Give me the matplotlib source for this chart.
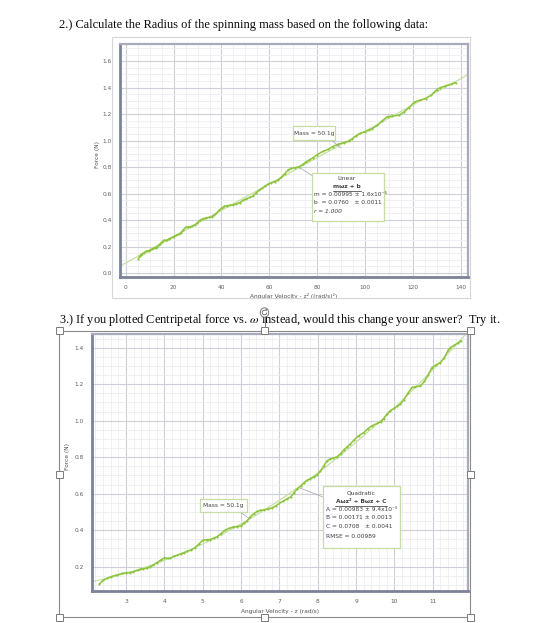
import numpy as np
import matplotlib
matplotlib.use("Agg")
import matplotlib.pyplot as plt
from matplotlib.ticker import MultipleLocator, FormatStrFormatter
from matplotlib.patches import Rectangle, Circle, Arc, Polygon
from matplotlib.lines import Line2D

plt.rcParams['mathtext.fontset'] = 'stix'

# ---------------- data ----------------
omega = [2.30, 2.40, 2.50, 2.60, 2.76, 2.90, 3.00, 3.10, 3.19, 3.30, 3.37, 3.45,
         3.54, 3.62, 3.71, 3.80, 3.90, 4.00, 4.08, 4.15, 4.25, 4.32, 4.42, 4.50,
         4.60, 4.70, 4.80, 4.90, 5.00, 5.10, 5.19, 5.28, 5.37, 5.47, 5.58, 5.68,
         5.80, 5.90, 6.00, 6.08, 6.15, 6.24, 6.33, 6.42, 6.50, 6.60, 6.70, 6.80,
         6.90, 7.00, 7.10, 7.20, 7.29, 7.38, 7.46, 7.55, 7.63, 7.72, 7.80, 7.89,
         7.98, 8.06, 8.15, 8.24, 8.32, 8.41, 8.50, 8.60, 8.68, 8.76, 8.85, 8.95,
         9.07, 9.20, 9.30, 9.42, 9.55, 9.65, 9.72, 9.80, 9.89, 10.00, 10.08, 10.15,
         10.25, 10.35, 10.46, 10.55, 10.68, 10.78, 10.88, 10.98, 11.08, 11.20,
         11.30, 11.40, 11.46, 11.55, 11.65, 11.74]
force = [0.105, 0.125, 0.137, 0.145, 0.155, 0.163, 0.167, 0.168, 0.173, 0.180, 0.186, 0.189,
         0.192, 0.200, 0.209, 0.222, 0.236, 0.249, 0.246, 0.246, 0.258, 0.262, 0.270, 0.276,
         0.284, 0.292, 0.305, 0.325, 0.345, 0.348, 0.349, 0.356, 0.364, 0.380, 0.400, 0.410,
         0.418, 0.420, 0.424, 0.438, 0.450, 0.473, 0.491, 0.503, 0.509, 0.512, 0.516, 0.522,
         0.532, 0.548, 0.560, 0.572, 0.582, 0.605, 0.625, 0.640, 0.658, 0.673, 0.682, 0.691,
         0.702, 0.722, 0.750, 0.780, 0.790, 0.796, 0.802, 0.820, 0.840, 0.855, 0.872, 0.895,
         0.918, 0.935, 0.955, 0.973, 0.985, 0.995, 1.010, 1.035, 1.055, 1.068, 1.080, 1.091,
         1.115, 1.150, 1.182, 1.186, 1.191, 1.215, 1.250, 1.291, 1.305, 1.318,
         1.345, 1.385, 1.400, 1.412, 1.425, 1.437]

# fit parameters shown in the boxes
lin_m, lin_b = 0.00995, 0.0760
quad_A, quad_B, quad_C = 0.00983, 0.00171, 0.0708

x1_ticks = [0, 20, 40, 60, 80, 100, 120, 140]
y1_ticks = [0.0, 0.2, 0.4, 0.6, 0.8, 1.0, 1.2, 1.4, 1.6]
x2_ticks = [3, 4, 5, 6, 7, 8, 9, 10, 11]
y2_ticks = [0.2, 0.4, 0.6, 0.8, 1.0, 1.2, 1.4]

W, H = 560, 623
fig = plt.figure(figsize=(W / 100, H / 100), dpi=100)
fig.patch.set_facecolor('white')


def fx(x):
    return x / W


def fy(y):
    return 1 - y / H


def ax_rect(l, t, r, b):
    return [fx(l), fy(b), (r - l) / W, (b - t) / H]


DATA_C = '#8cc43c'
FIT_C = '#c9e0a4'
BOX_EC = '#c6dca0'
TXT_C = '#505050'
TICK_FS = 4.2


def style_axes(ax):
    ax.set_facecolor('white')
    ax.grid(True, which='major', color='#cdd0d8', lw=0.8, zorder=0)
    ax.grid(True, which='minor', color='#eceef2', lw=0.6, zorder=0)
    ax.set_axisbelow(True)
    ax.tick_params(which='both', length=0, labelsize=TICK_FS, labelcolor='#606060', pad=6)
    for s in ['left', 'bottom']:
        ax.spines[s].set_color('#7c8298')
        ax.spines[s].set_linewidth(2.0)
    for s in ['top', 'right']:
        ax.spines[s].set_color('#a8acba')
        ax.spines[s].set_linewidth(1.6)


# ---------------- document text ----------------
fig.text(fx(59), fy(25), "2.) Calculate the Radius of the spinning mass based on the following data:",
         family='Liberation Serif', fontsize=8.9, color='#0a0a0a', va='center', ha='left')
fig.text(fx(59), fy(320),
         "3.) If you plotted Centripetal force vs. $\\omega$ instead, would this change your answer?  Try it.",
         family='Liberation Serif', fontsize=8.9, color='#0a0a0a', va='center', ha='left')

# outer border of chart 1 image
fig.patches.append(Rectangle((fx(112), fy(298)), (470 - 112) / W, (298 - 37) / H,
                             transform=fig.transFigure, fill=False, ec='#d4d6dc', lw=0.8))

# ---------------- chart 1 ----------------
ax1 = fig.add_axes(ax_rect(120, 44, 468, 277))
om = np.array(omega)
fr = np.array(force)
x1 = om ** 2
style_axes(ax1)
ax1.set_xlim(-2.4, 143)
ax1.set_ylim(-0.03, 1.73)
ax1.xaxis.set_major_locator(plt.FixedLocator(x1_ticks))
ax1.yaxis.set_major_locator(plt.FixedLocator(y1_ticks))
ax1.xaxis.set_minor_locator(MultipleLocator(5))
ax1.yaxis.set_minor_locator(MultipleLocator(0.05))
ax1.yaxis.set_major_formatter(FormatStrFormatter('%.1f'))
xf = np.linspace(-2.4, 143, 50)
ax1.plot(xf, lin_m * xf + lin_b, color=FIT_C, lw=0.9, zorder=2)
ax1.plot(x1, fr, color=DATA_C, lw=1.1, marker='o', ms=1.5, mew=0, zorder=3)
ax1.set_xlabel("Angular Velocity - z² ((rad/s)²)", fontsize=TICK_FS, color=TXT_C, labelpad=2)
fig.text(fx(97), fy(155), "Force (N)", rotation=90, fontsize=TICK_FS, color=TXT_C,
         ha='center', va='center')


def box(l, t, r, b):
    fig.patches.append(Rectangle((fx(l), fy(b)), (r - l) / W, (b - t) / H,
                                 transform=fig.transFigure, fc='white', ec=BOX_EC, lw=0.9,
                                 zorder=5))


def leader(xa, ya, xb, yb):
    fig.lines.append(Line2D([fx(xa), fx(xb)], [fy(ya), fy(yb)], transform=fig.transFigure,
                            color='#a0a0a0', lw=0.5, zorder=4))


def t(x, y, s, ha='left', **kw):
    fig.text(fx(x), fy(y), s, fontsize=4.2, color='#404040', ha=ha, va='center', zorder=6, **kw)


# Mass label chart 1
leader(330, 139, 341, 148)
box(293, 126, 335, 139.5)
t(314, 133, "Mass = 50.1g", ha='center')
# Linear fit box
leader(300, 168, 313, 176)
box(311.5, 172.5, 383.5, 220.5)
t(347, 178.5, "Linear", ha='center')
t(347, 186.5, "mωz + b", ha='center', fontweight='bold')
fig.lines.append(Line2D([fx(333), fx(361)], [fy(190.5), fy(190.5)], transform=fig.transFigure,
                        color='#303030', lw=0.5, zorder=6))
t(314.5, 194.5, "m = 0.00995 ± 1.6x10⁻⁵")
t(314.5, 202, "b  = 0.0760   ± 0.0011")
t(314.5, 211.5, "r = 1.000", style='italic')

# ---------------- chart 2 ----------------
# selection frame
fig.patches.append(Rectangle((fx(59), fy(617)), (470 - 59) / W, (617 - 331) / H,
                             transform=fig.transFigure, fill=False, ec='#8a8a8a', lw=0.8,
                             zorder=1))

ax2 = fig.add_axes(ax_rect(92, 334, 468, 591))
style_axes(ax2)
ax2.set_xlim(2.11, 11.92)
ax2.set_ylim(0.067, 1.475)
ax2.xaxis.set_major_locator(plt.FixedLocator(x2_ticks))
ax2.yaxis.set_major_locator(plt.FixedLocator(y2_ticks))
ax2.xaxis.set_minor_locator(MultipleLocator(0.2))
ax2.yaxis.set_minor_locator(MultipleLocator(0.05))
ax2.yaxis.set_major_formatter(FormatStrFormatter('%.1f'))
wf = np.linspace(2.11, 11.92, 100)
ax2.plot(wf, quad_A * wf ** 2 + quad_B * wf + quad_C, color=FIT_C, lw=0.9, zorder=2)
ax2.plot(om, fr, color=DATA_C, lw=1.1, marker='o', ms=1.5, mew=0, zorder=3)
ax2.set_xlabel("Angular Velocity - z (rad/s)", fontsize=TICK_FS, color=TXT_C, labelpad=3)
fig.text(fx(68), fy(457), "Force (N)", rotation=90, fontsize=TICK_FS, color=TXT_C,
         ha='center', va='center')

leader(240, 512, 250, 519)
box(200, 498.5, 247, 512)
t(223.5, 505.3, "Mass = 50.1g", ha='center')

leader(300, 488, 323, 497)
box(322.5, 486, 399.5, 547.5)
t(361, 493, "Quadratic", ha='center')
t(361, 501.5, "Aωz² + Bωz + C", ha='center', fontweight='bold')
fig.lines.append(Line2D([fx(335), fx(387)], [fy(505.5), fy(505.5)], transform=fig.transFigure,
                        color='#303030', lw=0.5, zorder=6))
t(326, 509.5, "A = 0.00983 ± 9.4x10⁻⁵")
t(326, 517.5, "B = 0.00171 ± 0.0013")
t(326, 526, "C = 0.0708   ± 0.0041")
t(326, 537, "RMSE = 0.00989")

# selection handles
for hx in (59, 264.5, 470):
    for hy in (331, 474, 617):
        if hx == 264.5 and hy == 474:
            continue
        fig.patches.append(Rectangle((fx(hx - 3.5), fy(hy + 3.5)), 7 / W, 7 / H,
                                     transform=fig.transFigure, fc='white', ec='#7a7a7a',
                                     lw=0.7, zorder=8))
fig.lines.append(Line2D([fx(264.5), fx(264.5)], [fy(317), fy(327.5)], transform=fig.transFigure,
                        color='#7a7a7a', lw=0.7, zorder=8))
fig.patches.append(Circle((fx(264.5), fy(312.5)), 4.2 / W, transform=fig.transFigure,
                          fc='white', ec='#7a7a7a', lw=0.7, zorder=8))
fig.patches.append(Arc((fx(264.5), fy(312.5)), 4.6 / W, 4.6 / H, theta1=60, theta2=360,
                       transform=fig.transFigure, ec='#606060', lw=0.6, zorder=9))
fig.patches.append(Polygon([(fx(265.2), fy(309.6)), (fx(267.6), fy(309.0)), (fx(266.4), fy(311.2))],
                           closed=True, transform=fig.transFigure, fc='#606060', ec='none',
                           zorder=9))

fig.savefig("out.png", dpi=100, facecolor='white')
